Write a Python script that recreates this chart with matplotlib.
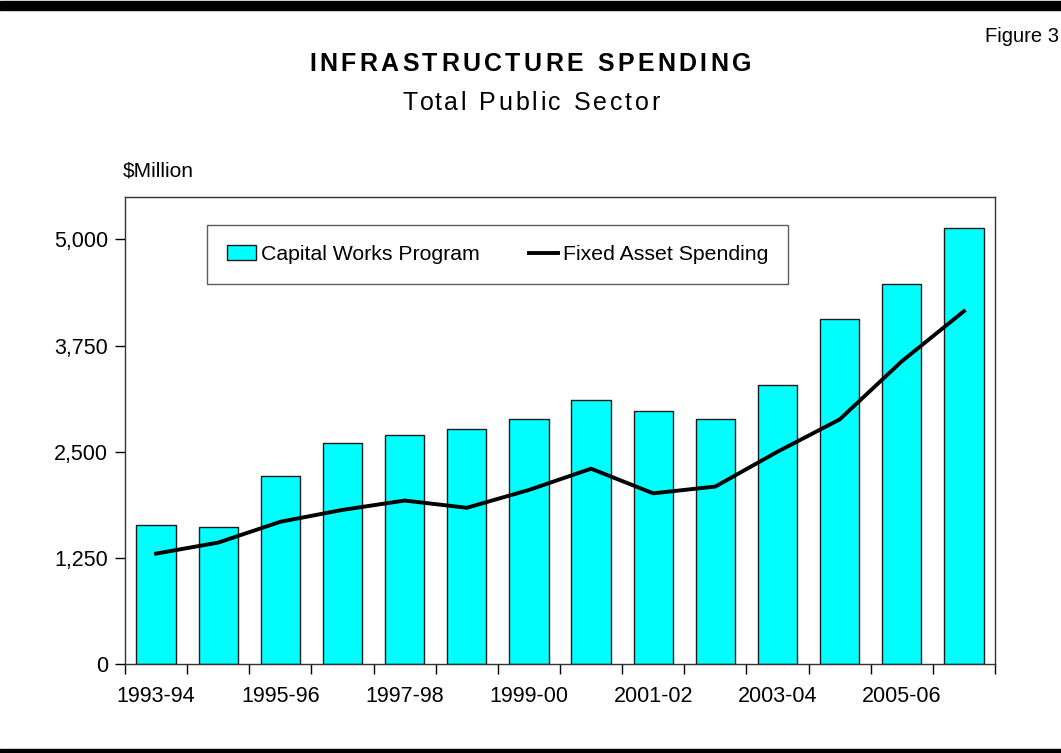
import matplotlib
matplotlib.use("Agg")
import matplotlib.pyplot as plt
import matplotlib.patches as mpatches
from matplotlib.lines import Line2D
import numpy as np

plt.rcParams["font.family"] = ["Liberation Sans", "DejaVu Sans"]

# ── DATA ($ million) ─────────────────────────────────────────────────────────
YEARS = ["1993-94", "1994-95", "1995-96", "1996-97", "1997-98", "1998-99",
         "1999-00", "2000-01", "2001-02", "2002-03", "2003-04", "2004-05",
         "2005-06", "2006-07"]
CAPITAL_WORKS = [1640, 1610, 2220, 2600, 2700, 2765, 2880,
                 3105, 2985, 2890, 3280, 4060, 4475, 5135]
FIXED_ASSET = [1300, 1430, 1675, 1815, 1925, 1840, 2050,
               2300, 2010, 2090, 2500, 2880, 3565, 4155]
Y_TICKS = [0, 1250, 2500, 3750, 5000]

CYAN = "#00FFFF"


def spaced_text(fig, s, xc, y, spacing, **kw):
    """Draw s centred at (xc, y) pixels with extra letter spacing."""
    r = fig.canvas.get_renderer()

    def width(txt):
        t = fig.text(0, 0, txt, **kw)
        w = t.get_window_extent(r).width
        t.remove()
        return w

    bar_w = width("|")
    offs = [width(s[:i] + "|") - bar_w if i else 0.0 for i in range(len(s))]
    total = width(s) + spacing * (len(s) - 1)
    x0 = xc - total / 2
    W, H = fig.bbox.width, fig.bbox.height
    for i, ch in enumerate(s):
        fig.text((x0 + offs[i] + i * spacing) / W, 1 - y / H, ch,
                 ha="left", va="baseline", **kw)


fig = plt.figure(figsize=(10.61, 7.53), dpi=100)
W, H = 1061, 753
ax = fig.add_axes([125 / W, 1 - 664 / H, 870 / W, 467 / H])

x = np.arange(len(YEARS))
ax.bar(x, CAPITAL_WORKS, width=0.63, color=CYAN, edgecolor="#1a1a1a",
       linewidth=1.0, zorder=2)
ax.plot(x, FIXED_ASSET, color="black", linewidth=2.8, zorder=3,
        solid_joinstyle="miter")

ax.set_xlim(-0.5, len(YEARS) - 0.5)
ax.set_ylim(0, 5500)
ax.set_yticks(Y_TICKS)
ax.set_yticklabels([f"{v:,}" for v in Y_TICKS])

# ticks sit on the category boundaries, labels on every second bar
ax.set_xticks(np.arange(len(YEARS) + 1) - 0.5)
ax.set_xticklabels([])
ax.set_xticks(x[::2], minor=True)
ax.set_xticklabels(YEARS[::2], minor=True)
ax.tick_params(axis="x", which="minor", length=0, pad=16, labelsize=15.5)
ax.tick_params(axis="x", which="major", length=7, width=1, direction="out")
ax.tick_params(axis="y", length=7, width=1, direction="out", labelsize=15.5, pad=5)

for sp in ax.spines.values():
    sp.set_color("#333333")
    sp.set_linewidth(1.0)

handles = [mpatches.Patch(facecolor=CYAN, edgecolor="#1a1a1a", linewidth=1.0,
                          label="Capital Works Program"),
           Line2D([], [], color="black", linewidth=2.8, label="Fixed Asset Spending")]
leg = ax.legend(handles=handles, ncol=2, loc="upper left",
                bbox_to_anchor=(82 / 870, 1 - 28 / 467), borderaxespad=0,
                fontsize=15.3, frameon=True, fancybox=False, edgecolor="#333333",
                borderpad=0.95, handlelength=1.35, handletextpad=0.25,
                columnspacing=2.3)
leg.get_frame().set_linewidth(1.0)

# titles and labels
spaced_text(fig, "INFRASTRUCTURE SPENDING", 530, 71, 3.4,
            fontsize=18, fontweight="bold")
spaced_text(fig, "Total Public Sector", 531, 110, 2.8, fontsize=18)
fig.text(1059 / W, 1 - 42 / H, "Figure 3", ha="right", va="baseline", fontsize=14.5)
fig.text(123 / W, 1 - 177 / H, "$Million", ha="left", va="baseline", fontsize=15)

# black bands at top and bottom of the page
fig.patches.append(mpatches.Rectangle((0, 1 - 10 / H), 1, 9 / H,
                                      transform=fig.transFigure,
                                      color="black", zorder=0))
fig.patches.append(mpatches.Rectangle((0, 0), 1, 4 / H,
                                      transform=fig.transFigure,
                                      color="black", zorder=0))

fig.savefig("out.png", dpi=100)
